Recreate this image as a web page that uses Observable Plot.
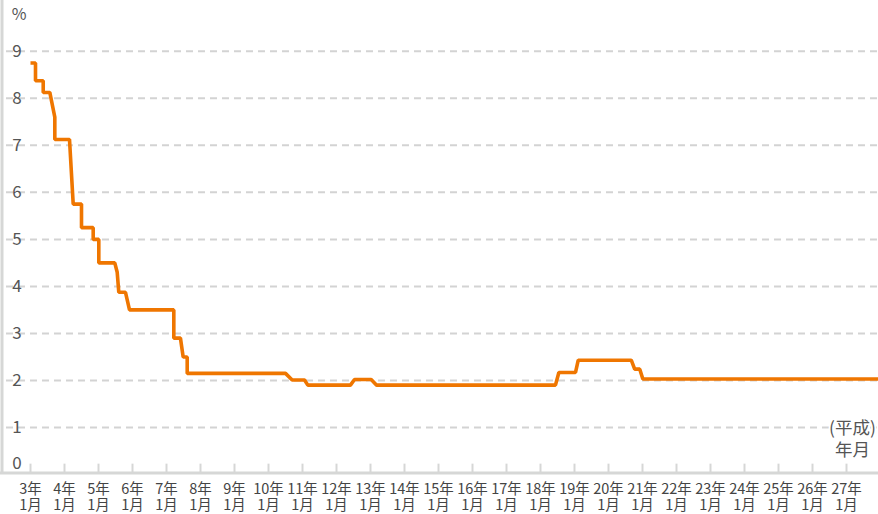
<!DOCTYPE html>
<html><head><meta charset="utf-8">
<script src="https://cdn.jsdelivr.net/npm/d3@7"></script>
<script src="https://cdn.jsdelivr.net/npm/@observablehq/plot@0.6"></script>
<style>html,body{margin:0;padding:0;background:#fff;} #chart svg{display:block;}</style>
</head><body><div id="chart"></div>
<script>
// Heisei year (decimal, 3.0 = 平成3年1月) of each bend of the line
const pointYear = [3.00, 3.147, 3.147, 3.374, 3.374, 3.568, 3.715, 3.715, 4.147, 4.256,
  4.50, 4.50, 4.844, 4.844, 5.009, 5.009, 5.479, 5.55, 5.597, 5.794,
  5.912, 7.215, 7.215, 7.41, 7.49, 7.609, 7.609, 10.50, 10.697, 11.06,
  11.156, 12.41, 12.53, 13.02, 13.18, 18.44, 18.54, 19.03, 19.11, 20.67,
  20.77, 20.92, 21.01, 27.94];
// rate (%) at each bend
const pointRate = [8.75, 8.75, 8.375, 8.375, 8.125, 8.125, 7.6, 7.125, 7.125, 5.75,
  5.75, 5.25, 5.25, 5.0, 5.0, 4.5, 4.5, 4.3, 3.875, 3.875,
  3.5, 3.5, 2.9, 2.9, 2.5, 2.5, 2.15, 2.15, 2.01, 2.01,
  1.9, 1.9, 2.02, 2.02, 1.9, 1.9, 2.17, 2.17, 2.43, 2.43,
  2.24, 2.24, 2.03, 2.03];
const yTicks = [0, 1, 2, 3, 4, 5, 6, 7, 8, 9];
const xTickYears = [3, 4, 5, 6, 7, 8, 9, 10, 11, 12, 13, 14, 15, 16, 17, 18, 19, 20, 21, 22, 23, 24, 25, 26, 27];
const xTickYearLabels = xTickYears.map(y => `${y}年`);
const xTickMonthLabel = "1月";
const unitLabel = "%";
const eraLabel1 = "(平成)";
const eraLabel2 = "年月";

const data = pointYear.map((t, i) => ({t, rate: pointRate[i]}));
const ticks = xTickYears.map((y, i) => ({y, label: xTickYearLabels[i]}));
const font = "'Noto Sans CJK JP', 'Noto Sans', sans-serif";
const xDomain = [3 - 30 / 34, 3 + 848 / 34];
const axisGray = "#d6d7d6";

const chart = Plot.plot({
  width: 878, height: 514,
  marginLeft: 0, marginRight: 0, marginTop: 0, marginBottom: 40,
  x: {domain: xDomain, axis: null},
  y: {domain: [0, 10.08], axis: null},
  style: {fontFamily: font, background: "#fff"},
  marks: [
    Plot.ruleY(yTicks.filter(d => d > 0), {y: d => d, stroke: "#d3d3d3", strokeWidth: 2, strokeDasharray: "7,5", insetLeft: 6}),
    Plot.ruleX(xTickYears, {x: d => d, y1: 0, y2: 0.22, stroke: axisGray, strokeWidth: 2}),
    Plot.ruleY([0], {stroke: axisGray, strokeWidth: 3, dy: -1.5}),
    Plot.ruleX([xDomain[0]], {stroke: axisGray, strokeWidth: 3, dx: 1.5}),
    Plot.line(data, {x: "t", y: "rate", stroke: "#ef7600", strokeWidth: 3.6, strokeLinejoin: "miter", strokeLinecap: "butt"}),
    Plot.text(yTicks.filter(d => d > 0), {y: d => d, frameAnchor: "left", dx: 16.5, text: d => String(d), textAnchor: "middle", fontSize: 17, fill: "#555"}),
    Plot.text(yTicks.filter(d => d === 0), {y: d => d, frameAnchor: "left", dx: 16.5, dy: -11, text: d => String(d), textAnchor: "middle", fontSize: 17, fill: "#555"}),
    Plot.text([unitLabel], {frameAnchor: "top-left", dx: 18.5, dy: 14, text: d => d, textAnchor: "middle", lineAnchor: "middle", fontSize: 16, fill: "#555"}),
    Plot.text(ticks, {x: "y", y: 0, text: "label", dy: 15, lineAnchor: "middle", textAnchor: "middle", fontSize: 14.5, fill: "#444"}),
    Plot.text(xTickYears, {x: d => d, y: 0, text: () => xTickMonthLabel, dy: 31, lineAnchor: "middle", textAnchor: "middle", fontSize: 14.5, fill: "#444"}),
    Plot.text([eraLabel1], {frameAnchor: "bottom-right", dx: -26, dy: -46, text: d => d, textAnchor: "middle", lineAnchor: "middle", fontSize: 17.5, fill: "#555", stroke: "#fff", strokeWidth: 4}),
    Plot.text([eraLabel2], {frameAnchor: "bottom-right", dx: -26, dy: -24, text: d => d, textAnchor: "middle", lineAnchor: "middle", fontSize: 17.5, fill: "#555"})
  ]
});
document.getElementById("chart").append(chart);
</script>
</body></html>
